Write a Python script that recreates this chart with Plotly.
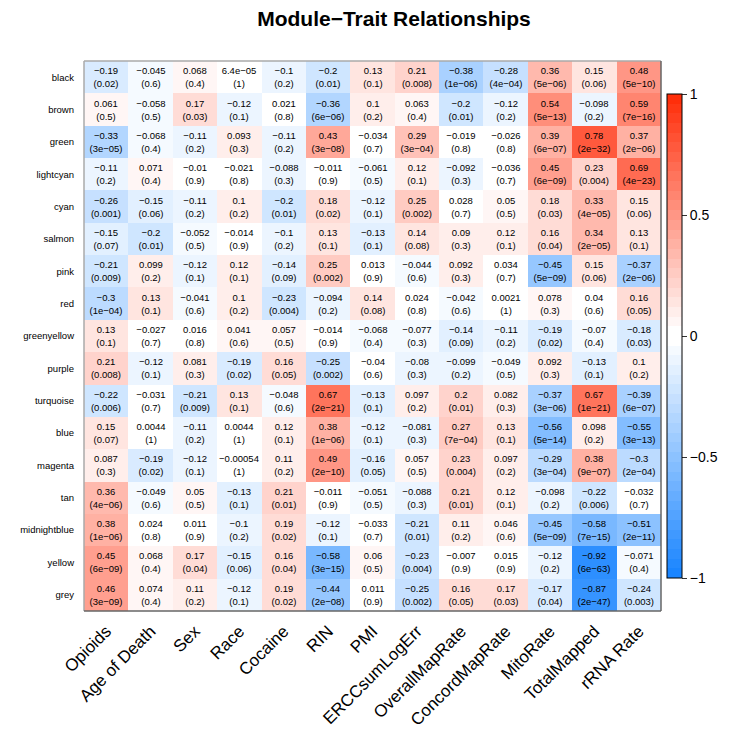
import plotly.graph_objects as go

# traits (columns) and module eigengenes (rows, top to bottom)
traits = ['Opioids', 'Age of Death', 'Sex', 'Race', 'Cocaine', 'RIN', 'PMI',
          'ERCCsumLogErr', 'OverallMapRate', 'ConcordMapRate', 'MitoRate',
          'TotalMapped', 'rRNA Rate']
modules = ['black', 'brown', 'green', 'lightcyan', 'cyan', 'salmon', 'pink', 'red',
           'greenyellow', 'purple', 'turquoise', 'blue', 'magenta', 'tan',
           'midnightblue', 'yellow', 'grey']

# module-trait correlations
cor = [
    [-0.19, -0.045, 0.068, 6.4e-05, -0.1, -0.2, 0.13, 0.21, -0.38, -0.28, 0.36, 0.15, 0.48],
    [0.061, -0.058, 0.17, -0.12, 0.021, -0.36, 0.1, 0.063, -0.2, -0.12, 0.54, -0.098, 0.59],
    [-0.33, -0.068, -0.11, 0.093, -0.11, 0.43, -0.034, 0.29, -0.019, -0.026, 0.39, 0.78, 0.37],
    [-0.11, 0.071, -0.01, -0.021, -0.088, -0.011, -0.061, 0.12, -0.092, -0.036, 0.45, 0.23, 0.69],
    [-0.26, -0.15, -0.11, 0.1, -0.2, 0.18, -0.12, 0.25, 0.028, 0.05, 0.18, 0.33, 0.15],
    [-0.15, -0.2, -0.052, -0.014, -0.1, 0.13, -0.13, 0.14, 0.09, 0.12, 0.16, 0.34, 0.13],
    [-0.21, 0.099, -0.12, 0.12, -0.14, 0.25, 0.013, -0.044, 0.092, 0.034, -0.45, 0.15, -0.37],
    [-0.3, 0.13, -0.041, 0.1, -0.23, -0.094, 0.14, 0.024, -0.042, 0.0021, 0.078, 0.04, 0.16],
    [0.13, -0.027, 0.016, 0.041, 0.057, -0.014, -0.068, -0.077, -0.14, -0.11, -0.19, -0.07, -0.18],
    [0.21, -0.12, 0.081, -0.19, 0.16, -0.25, -0.04, -0.08, -0.099, -0.049, 0.092, -0.13, 0.1],
    [-0.22, -0.031, -0.21, 0.13, -0.048, 0.67, -0.13, 0.097, 0.2, 0.082, -0.37, 0.67, -0.39],
    [0.15, 0.0044, -0.11, 0.0044, 0.12, 0.38, -0.12, -0.081, 0.27, 0.13, -0.56, 0.098, -0.55],
    [0.087, -0.19, -0.12, -0.00054, 0.11, 0.49, -0.16, 0.057, 0.23, 0.097, -0.29, 0.38, -0.3],
    [0.36, -0.049, 0.05, -0.13, 0.21, -0.011, -0.051, -0.088, 0.21, 0.12, -0.098, -0.22, -0.032],
    [0.38, 0.024, 0.011, -0.1, 0.19, -0.12, -0.033, -0.21, 0.11, 0.046, -0.45, -0.58, -0.51],
    [0.45, 0.068, 0.17, -0.15, 0.16, -0.58, 0.06, -0.23, -0.007, 0.015, -0.12, -0.92, -0.071],
    [0.46, 0.074, 0.11, -0.12, 0.19, -0.44, 0.011, -0.25, 0.16, 0.17, -0.17, -0.87, -0.24],
]

# p-values
pval = [
    [0.02, 0.6, 0.4, 1, 0.2, 0.01, 0.1, 0.008, 1e-06, 4e-04, 5e-06, 0.06, 5e-10],
    [0.5, 0.5, 0.03, 0.1, 0.8, 6e-06, 0.2, 0.4, 0.01, 0.2, 5e-13, 0.2, 7e-16],
    [3e-05, 0.4, 0.2, 0.3, 0.2, 3e-08, 0.7, 3e-04, 0.8, 0.8, 6e-07, 2e-32, 2e-06],
    [0.2, 0.4, 0.9, 0.8, 0.3, 0.9, 0.5, 0.1, 0.3, 0.7, 6e-09, 0.004, 4e-23],
    [0.001, 0.06, 0.2, 0.2, 0.01, 0.02, 0.1, 0.002, 0.7, 0.5, 0.03, 4e-05, 0.06],
    [0.07, 0.01, 0.5, 0.9, 0.2, 0.1, 0.1, 0.08, 0.3, 0.1, 0.04, 2e-05, 0.1],
    [0.009, 0.2, 0.1, 0.1, 0.09, 0.002, 0.9, 0.6, 0.3, 0.7, 5e-09, 0.06, 2e-06],
    [1e-04, 0.1, 0.6, 0.2, 0.004, 0.2, 0.08, 0.8, 0.6, 1, 0.3, 0.6, 0.05],
    [0.1, 0.7, 0.8, 0.6, 0.5, 0.9, 0.4, 0.3, 0.09, 0.2, 0.02, 0.4, 0.03],
    [0.008, 0.1, 0.3, 0.02, 0.05, 0.002, 0.6, 0.3, 0.2, 0.5, 0.3, 0.1, 0.2],
    [0.006, 0.7, 0.009, 0.1, 0.6, 2e-21, 0.1, 0.2, 0.01, 0.3, 3e-06, 1e-21, 6e-07],
    [0.07, 1, 0.2, 1, 0.1, 1e-06, 0.1, 0.3, 7e-04, 0.1, 5e-14, 0.2, 3e-13],
    [0.3, 0.02, 0.1, 1, 0.2, 2e-10, 0.05, 0.5, 0.004, 0.2, 3e-04, 9e-07, 2e-04],
    [4e-06, 0.6, 0.5, 0.1, 0.01, 0.9, 0.5, 0.3, 0.01, 0.1, 0.2, 0.006, 0.7],
    [1e-06, 0.8, 0.9, 0.2, 0.02, 0.1, 0.7, 0.01, 0.2, 0.6, 5e-09, 7e-15, 2e-11],
    [6e-09, 0.4, 0.04, 0.06, 0.04, 3e-15, 0.5, 0.004, 0.9, 0.9, 0.2, 6e-63, 0.4],
    [3e-09, 0.4, 0.2, 0.1, 0.02, 2e-08, 0.9, 0.002, 0.05, 0.03, 0.04, 2e-47, 0.003],
]

MINUS = '\u2212'


def fmt_r(v):
    return ('%.2g' % v).replace('-', MINUS)


def fmt_p(v):
    s = '%.0e' % v if v < 0.001 else '%.1g' % v
    return s.replace('-', MINUS)


cell_text = [[fmt_r(r) + '<br>(' + fmt_p(p) + ')' for r, p in zip(rr, pp)]
             for rr, pp in zip(cor, pval)]

# blue-white-red in 50 steps
blue_end = (0.10, 0.52, 1.0)
red_end = (1.0, 0.18, 0.04)
n_half = 25
cols = []
for i in range(n_half):
    f = i / (n_half - 1)
    cols.append([blue_end[k] * (1 - f) + f for k in range(3)])
for i in range(n_half):
    f = i / (n_half - 1)
    cols.append([(1 - f) + red_end[k] * f for k in range(3)])
colorscale = []
n = len(cols)
for i, c in enumerate(cols):
    s = 'rgb(%d,%d,%d)' % tuple(round(255 * x) for x in c)
    colorscale.append([i / n, s])
    colorscale.append([(i + 1) / n, s])

FONT = 'Liberation Sans, Arial, sans-serif'

fig = go.Figure(go.Heatmap(
    z=cor, x=traits, y=modules,
    zmin=-1, zmax=1, colorscale=colorscale,
    text=cell_text, texttemplate='%{text}',
    textfont=dict(family=FONT, size=9.5, color='black'),
    hoverinfo='skip',
    colorbar=dict(
        x=1.01, xanchor='left', xpad=0, ypad=0,
        y=0.5, yanchor='middle', len=0.88, lenmode='fraction',
        thickness=15, outlinecolor='black', outlinewidth=1,
        tickvals=[-1, -0.5, 0, 0.5, 1], ticktext=['\u22121', '\u22120.5', '0', '0.5', '1'],
        ticks='outside', ticklen=5, tickcolor='#333', tickwidth=1,
        tickfont=dict(family=FONT, size=14, color='black'),
    ),
))

fig.update_layout(
    width=729, height=734,
    margin=dict(l=63, r=76, t=53, b=102),
    paper_bgcolor='white', plot_bgcolor='white',
    title=dict(text='<b>Module\u2212Trait Relationships</b>',
               x=386 / 729, xref='container', xanchor='center',
               y=1 - 11 / 734, yref='container', yanchor='middle',
               font=dict(family=FONT, size=21, color='black')),
    xaxis=dict(tickangle=-45, ticks='', showgrid=False, zeroline=False,
               ticklabelstandoff=6,
               tickfont=dict(family=FONT, size=17, color='black')),
    yaxis=dict(autorange='reversed', ticks='', showgrid=False, zeroline=False,
               ticklabelstandoff=9,
               tickfont=dict(family=FONT, size=9.5, color='black')),
    shapes=[
        dict(type='line', xref='paper', yref='paper', x0=0, x1=0, y0=0, y1=1,
             line=dict(color='#aaaaaa', width=1.5)),
        dict(type='line', xref='paper', yref='paper', x0=0, x1=1, y0=1, y1=1,
             line=dict(color='#aaaaaa', width=1.5)),
        dict(type='line', xref='paper', yref='paper', x0=0, x1=1, y0=0, y1=0,
             line=dict(color='#666666', width=1.5)),
        dict(type='line', xref='paper', yref='paper', x0=1, x1=1, y0=0, y1=1,
             line=dict(color='#666666', width=1.5)),
    ],
)

fig.write_html('out.html')
